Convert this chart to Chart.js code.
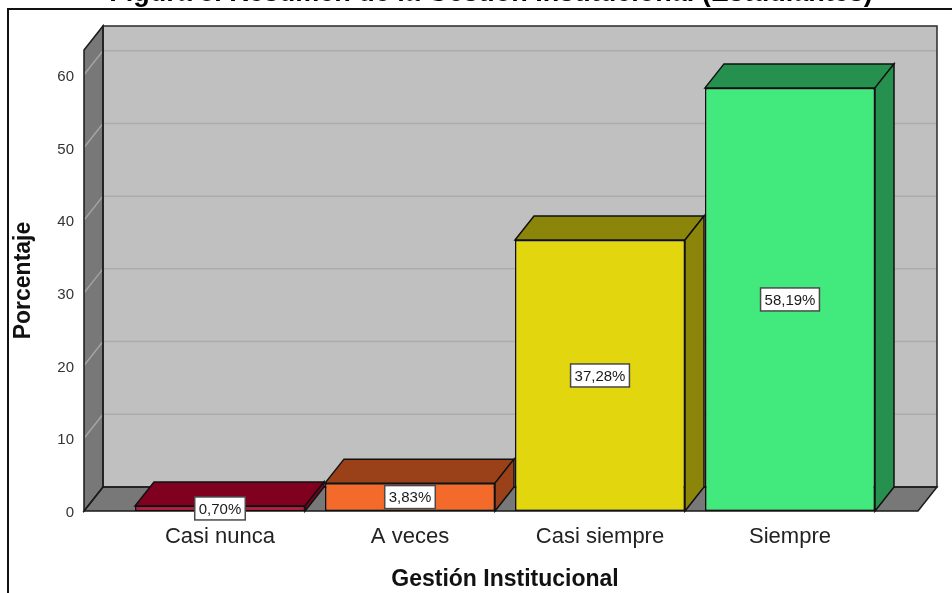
<!DOCTYPE html>
<html lang="es">
<head>
<meta charset="utf-8">
<title>Gestión Institucional</title>
<script src="https://cdn.jsdelivr.net/npm/chart.js@4.4.1/dist/chart.umd.min.js"></script>
<style>
  html, body { margin: 0; padding: 0; background: #ffffff; }
  #wrap { width: 952px; height: 593px; overflow: hidden; }
</style>
</head>
<body>
<div id="wrap"><canvas id="chart" width="952" height="593"></canvas></div>
<script>
// Data
const categories = ['Casi nunca', 'A veces', 'Casi siempre', 'Siempre'];
const percentages = [0.70, 3.83, 37.28, 58.19];
const yTickValues = [0, 10, 20, 30, 40, 50, 60];
const yMax = 63.4;

// Bar colours: front face, then top/side faces
const frontColors = ['#d8103c', '#f36a2b', '#e2d70f', '#42e97c'];
const shadeColors = ['#800020', '#9a4119', '#8b850a', '#26914f'];

// 3D look
const DEPTH_X = 19;
const DEPTH_Y = 24;
const FLOOR_LEFT = 41;   // floor/left wall sticks out past the first category
const FLOOR_RIGHT = 33;

const FONT = "'Liberation Sans', Arial, sans-serif";

function poly(ctx, pts, fill, stroke, lw) {
  ctx.beginPath();
  ctx.moveTo(pts[0][0], pts[0][1]);
  for (let i = 1; i < pts.length; i++) ctx.lineTo(pts[i][0], pts[i][1]);
  ctx.closePath();
  if (fill) { ctx.fillStyle = fill; ctx.fill(); }
  if (stroke) { ctx.strokeStyle = stroke; ctx.lineWidth = lw || 1.5; ctx.stroke(); }
}

// Frame, cut-off heading, walls, floor and grid
const backdropPlugin = {
  id: 'backdrop',
  beforeDraw(chart) {
    const ctx = chart.ctx;
    ctx.save();
    ctx.fillStyle = '#ffffff';
    ctx.fillRect(0, 0, chart.width, chart.height);

    ctx.fillStyle = '#000000';
    ctx.font = 'bold 27px ' + FONT;
    ctx.textAlign = 'center';
    ctx.textBaseline = 'alphabetic';
    ctx.fillText('Figura 8. Resumen de la Gestión Institucional (Estudiantes)', 491, 0.5);

    ctx.strokeStyle = '#111111';
    ctx.lineWidth = 2;
    ctx.beginPath();
    ctx.moveTo(8, chart.height + 5);
    ctx.lineTo(8, 9);
    ctx.lineTo(chart.width + 5, 9);
    ctx.stroke();
    ctx.restore();
  },
  beforeDatasetsDraw(chart) {
    const ctx = chart.ctx;
    const y = chart.scales.y;
    const area = chart.chartArea;
    const L = area.left - FLOOR_LEFT;
    const R = area.right + FLOOR_RIGHT;
    const T = y.getPixelForValue(yMax);
    const B = y.getPixelForValue(0);

    ctx.save();
    // back wall
    poly(ctx, [[L + DEPTH_X, T - DEPTH_Y], [R + DEPTH_X, T - DEPTH_Y],
               [R + DEPTH_X, B - DEPTH_Y], [L + DEPTH_X, B - DEPTH_Y]], '#c0c0c0');
    // left wall
    poly(ctx, [[L, T], [L + DEPTH_X, T - DEPTH_Y], [L + DEPTH_X, B - DEPTH_Y], [L, B]], '#787878');
    // floor
    poly(ctx, [[L, B], [L + DEPTH_X, B - DEPTH_Y], [R + DEPTH_X, B - DEPTH_Y], [R, B]], '#787878');

    // grid lines
    ctx.lineWidth = 1.5;
    yTickValues.forEach(v => {
      if (v === 0) return;
      const py = y.getPixelForValue(v);
      ctx.strokeStyle = '#acacac';
      ctx.beginPath();
      ctx.moveTo(L + DEPTH_X, py - DEPTH_Y);
      ctx.lineTo(R + DEPTH_X, py - DEPTH_Y);
      ctx.stroke();
      ctx.strokeStyle = '#a4a4a4';
      ctx.beginPath();
      ctx.moveTo(L, py);
      ctx.lineTo(L + DEPTH_X, py - DEPTH_Y);
      ctx.stroke();
    });

    // outlines
    poly(ctx, [[L + DEPTH_X, T - DEPTH_Y], [R + DEPTH_X, T - DEPTH_Y],
               [R + DEPTH_X, B - DEPTH_Y], [L + DEPTH_X, B - DEPTH_Y]], null, '#2a2a2a', 1.5);
    poly(ctx, [[L, T], [L + DEPTH_X, T - DEPTH_Y], [L + DEPTH_X, B - DEPTH_Y], [L, B]], null, '#1a1a1a', 1.5);
    poly(ctx, [[L, B], [L + DEPTH_X, B - DEPTH_Y], [R + DEPTH_X, B - DEPTH_Y], [R, B]], null, '#1a1a1a', 1.5);
    ctx.restore();
  }
};

// Top and side faces of each bar, then the value boxes
const barDepthPlugin = {
  id: 'barDepth',
  afterDatasetsDraw(chart) {
    const ctx = chart.ctx;
    const meta = chart.getDatasetMeta(0);
    ctx.save();
    meta.data.forEach((bar, i) => {
      const x1 = bar.x - bar.width / 2;
      const x2 = bar.x + bar.width / 2;
      const yt = bar.y;
      const yb = bar.base;
      poly(ctx, [[x1, yt], [x1 + DEPTH_X, yt - DEPTH_Y], [x2 + DEPTH_X, yt - DEPTH_Y], [x2, yt]],
           shadeColors[i], '#111111', 1.5);
      poly(ctx, [[x2, yt], [x2 + DEPTH_X, yt - DEPTH_Y], [x2 + DEPTH_X, yb - DEPTH_Y], [x2, yb]],
           shadeColors[i], '#111111', 1.5);
    });

    ctx.font = '15px ' + FONT;
    ctx.textAlign = 'center';
    ctx.textBaseline = 'middle';
    meta.data.forEach((bar, i) => {
      const text = percentages[i].toFixed(2).replace('.', ',') + '%';
      const w = ctx.measureText(text).width + 8;
      const h = 23;
      const cy = (bar.y + bar.base) / 2;
      ctx.fillStyle = '#ffffff';
      ctx.fillRect(bar.x - w / 2, cy - h / 2, w, h);
      ctx.strokeStyle = '#4a4a4a';
      ctx.lineWidth = 1.5;
      ctx.strokeRect(bar.x - w / 2, cy - h / 2, w, h);
      ctx.fillStyle = '#1a1a1a';
      ctx.fillText(text, bar.x, cy + 1);
    });
    ctx.restore();
  }
};

new Chart(document.getElementById('chart').getContext('2d'), {
  type: 'bar',
  data: {
    labels: categories,
    datasets: [{
      label: 'Porcentaje',
      data: percentages,
      backgroundColor: frontColors,
      borderColor: '#111111',
      borderWidth: 1.5,
      borderSkipped: false,
      barPercentage: 170 / 190,
      categoryPercentage: 1
    }]
  },
  options: {
    responsive: false,
    animation: false,
    layout: { padding: { top: 50, right: 67, left: 0, bottom: 0 } },
    plugins: {
      legend: { display: false },
      tooltip: { enabled: false },
      title: { display: false }
    },
    scales: {
      x: {
        grid: { display: false, drawTicks: false },
        border: { display: false },
        ticks: {
          color: '#222222',
          font: { family: FONT, size: 22 },
          padding: 13,
          maxRotation: 0
        },
        title: {
          display: true,
          text: 'Gestión Institucional',
          color: '#111111',
          font: { family: FONT, size: 23, weight: 'bold' },
          padding: { top: 0, bottom: 0 }
        },
        afterFit(scale) { scale.height = 82; }
      },
      y: {
        min: 0,
        max: yMax,
        grid: { display: false, drawTicks: false },
        border: { display: false },
        afterBuildTicks(scale) {
          scale.ticks = yTickValues.map(v => ({ value: v }));
        },
        ticks: {
          color: '#333333',
          font: { family: FONT, size: 15 },
          padding: 51,
          labelOffset: 2
        },
        title: {
          display: true,
          text: 'Porcentaje',
          color: '#111111',
          font: { family: FONT, size: 23, weight: 'bold' },
          padding: { top: 10, bottom: 0 }
        },
        // the wide tick padding only moves labels sideways; keep it out of the vertical layout
        afterFit(scale) {
          scale.width = 125;
          scale.paddingTop = 0;
          scale.paddingBottom = 0;
        }
      }
    }
  },
  plugins: [backdropPlugin, barDepthPlugin]
});
</script>
</body>
</html>
